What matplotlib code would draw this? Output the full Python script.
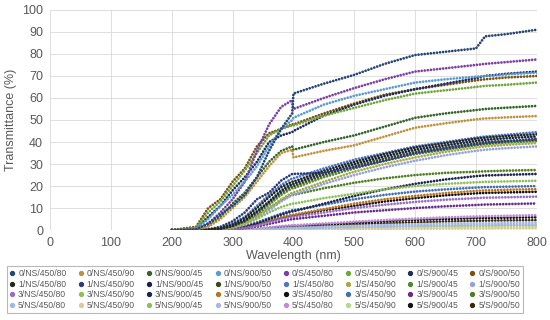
import numpy as np
from matplotlib import pyplot as plt
from matplotlib.lines import Line2D

wavelength = [200, 240, 260, 280, 300, 320, 340, 360, 380, 398, 400,
              450, 500, 550, 600, 650, 700, 715, 750, 800]

# transmittance (%) per sample
t_0_NS_450_80 = [0, 0.3, 3, 7, 11, 16, 24, 36, 46, 53, 62, 66.5, 70.5, 75.5, 79.5, 81, 82.5, 88, 89, 91]
t_0_NS_450_90 = [0, 0.3, 1.5, 5, 10, 15, 22, 29, 35, 36.5, 33, 36, 38.5, 42.5, 46.5, 48.5, 50.3, 50.7, 51.2, 51.8]
t_0_NS_900_45 = [0, 0.3, 2, 6, 12, 17, 24, 31, 36, 38, 36.5, 40, 43, 47, 51, 53, 54.5, 55, 55.6, 56.4]
t_0_NS_900_50 = [0, 0.5, 5, 11, 16, 22, 29, 38, 46, 50, 51, 57, 61, 64, 67, 68.5, 69.7, 70, 70.7, 71.5]
t_0_S_450_80 = [0, 0.3, 3, 8, 14, 22, 36, 48, 56, 59, 55, 60, 64.5, 68.5, 72, 73.5, 75, 75.5, 76.3, 77.5]
t_0_S_450_90 = [0, 1, 8, 13, 20, 27, 35, 43, 46, 47.5, 47.5, 52, 55.5, 59, 62, 63.5, 65, 65.5, 66, 67]
t_0_S_900_45 = [0, 1, 6, 11, 18, 24, 31, 40, 43, 44.5, 45, 52, 57, 61, 64, 66.5, 69, 70, 71, 72]
t_0_S_900_50 = [0, 1.5, 10, 14, 22, 28, 38, 44, 46, 48, 48, 53, 57.5, 61.5, 64, 66, 68, 68.5, 69.3, 70]

t_1_NS_450_80 = [0, 0, 0.2, 0.8, 2.5, 5.5, 10, 15, 19.5, 22, 22, 27, 31, 34.5, 37.5, 39.5, 41.5, 42, 42.7, 43.5]
t_1_NS_450_90 = [0, 0, 0.3, 1.5, 4, 8, 14, 17, 22.5, 25.5, 25.5, 26, 28.5, 31.5, 35, 37, 39, 39.5, 40.3, 41.5]
t_1_NS_900_45 = [0, 0, 0.2, 0.7, 2, 4.5, 8.5, 13, 18, 21, 21, 26, 30, 33.5, 36.5, 38.5, 40.5, 41, 41.7, 42.5]
t_1_NS_900_50 = [0, 0, 0.1, 0.5, 1.8, 4, 8, 12.5, 17, 20, 20, 25, 29, 32.5, 35.5, 37.5, 39.5, 40, 40.5, 41]
t_1_S_450_80 = [0, 0, 0.3, 1, 3, 6, 11, 16, 20.5, 23.5, 23.5, 28, 32, 35, 38, 40, 42, 42.5, 43.3, 44.5]
t_1_S_450_90 = [0, 0, 0.1, 0.4, 1.2, 3, 6, 10, 14, 17, 17, 22, 26.5, 30, 33, 35.5, 37.5, 38, 38.7, 39.5]
t_1_S_900_45 = [0, 0, 0.1, 0.5, 1.5, 3.5, 7, 11.5, 16, 19, 19, 24, 28, 31.5, 34.5, 36.5, 38.5, 39, 39.7, 40.5]
t_1_S_900_50 = [0, 0, 0.1, 0.4, 1.2, 2.8, 5.5, 9, 13, 16, 16, 21, 25, 28.5, 31.5, 34, 36, 36.5, 37.2, 38]

t_3_NS_450_80 = [0, 0, 0, 0.1, 0.4, 1, 2, 3.5, 5, 6, 6, 8, 10, 11.5, 12.8, 13.8, 14.5, 14.7, 14.9, 15.2]
t_3_NS_450_90 = [0, 0, 0, 0.3, 1, 2.5, 5, 8, 10.5, 12, 12, 14.5, 16.5, 18.5, 20, 21, 21.7, 21.9, 22.1, 22.4]
t_3_NS_900_45 = [0, 0, 0, 0.2, 0.6, 1.5, 3, 5, 7, 8.5, 8.5, 12, 15.5, 18.5, 21, 23, 24.5, 24.8, 25.1, 25.5]
t_3_NS_900_50 = [0, 0, 0, 0.2, 0.6, 1.5, 3, 4.5, 6, 7, 7, 9.5, 12, 14, 15.5, 16.8, 17.8, 18, 18.3, 18.6]
t_3_S_450_80 = [0, 0, 0, 0.1, 0.5, 1.2, 2.5, 4, 5.5, 6.5, 6.5, 9, 11, 13, 14.5, 15.8, 16.7, 16.9, 17.1, 17.4]
t_3_S_450_90 = [0, 0, 0, 0.2, 0.7, 1.8, 3.5, 5.5, 7.5, 9, 9, 11.5, 14, 16, 17.5, 18.5, 19.3, 19.5, 19.7, 20]
t_3_S_900_45 = [0, 0, 0, 0.1, 0.3, 0.8, 1.6, 2.8, 4, 5, 5, 6.5, 8, 9, 10, 10.8, 11.4, 11.6, 11.8, 12.1]
t_3_S_900_50 = [0, 0, 0.1, 0.4, 1.5, 3.5, 6.5, 10, 13.5, 16, 16, 19, 21.5, 23.5, 25, 26, 26.5, 26.7, 27, 27.3]

t_5_NS_450_80 = [0, 0, 0, 0, 0, 0.1, 0.2, 0.4, 0.6, 0.8, 0.8, 1.1, 1.4, 1.7, 2, 2.2, 2.4, 2.4, 2.5, 2.5]
t_5_NS_450_90 = [0, 0, 0, 0, 0, 0, 0.1, 0.2, 0.3, 0.4, 0.4, 0.5, 0.7, 0.8, 0.9, 1, 1.1, 1.1, 1.2, 1.2]
t_5_NS_900_45 = [0, 0, 0, 0, 0, 0.1, 0.2, 0.3, 0.5, 0.6, 0.6, 0.9, 1.1, 1.4, 1.6, 1.8, 1.9, 1.9, 2, 2]
t_5_NS_900_50 = [0, 0, 0, 0, 0, 0.1, 0.3, 0.5, 0.8, 1, 1, 1.5, 1.9, 2.3, 2.6, 2.9, 3.1, 3.1, 3.2, 3.3]
t_5_S_450_80 = [0, 0, 0, 0, 0.1, 0.3, 0.7, 1.2, 1.8, 2.2, 2.2, 3, 3.8, 4.6, 5.2, 5.8, 6.2, 6.3, 6.5, 6.8]
t_5_S_450_90 = [0, 0, 0, 0, 0, 0, 0.1, 0.1, 0.2, 0.3, 0.3, 0.4, 0.5, 0.5, 0.6, 0.7, 0.7, 0.7, 0.8, 0.8]
t_5_S_900_45 = [0, 0, 0, 0, 0.1, 0.3, 0.6, 1, 1.5, 1.9, 1.9, 2.6, 3.3, 4, 4.6, 5, 5.4, 5.5, 5.6, 5.8]
t_5_S_900_50 = [0, 0, 0, 0, 0.1, 0.2, 0.4, 0.7, 1.1, 1.4, 1.4, 2, 2.6, 3.1, 3.5, 3.9, 4.2, 4.3, 4.4, 4.5]

labels = [
    "0/NS/450/80", "0/NS/450/90", "0/NS/900/45", "0/NS/900/50",
    "0/S/450/80", "0/S/450/90", "0/S/900/45", "0/S/900/50",
    "1/NS/450/80", "1/NS/450/90", "1/NS/900/45", "1/NS/900/50",
    "1/S/450/80", "1/S/450/90", "1/S/900/45", "1/S/900/50",
    "3/NS/450/80", "3/NS/450/90", "3/NS/900/45", "3/NS/900/50",
    "3/S/450/80", "3/S/450/90", "3/S/900/45", "3/S/900/50",
    "5/NS/450/80", "5/NS/450/90", "5/NS/900/45", "5/NS/900/50",
    "5/S/450/80", "5/S/450/90", "5/S/900/45", "5/S/900/50",
]
series = [
    t_0_NS_450_80, t_0_NS_450_90, t_0_NS_900_45, t_0_NS_900_50,
    t_0_S_450_80, t_0_S_450_90, t_0_S_900_45, t_0_S_900_50,
    t_1_NS_450_80, t_1_NS_450_90, t_1_NS_900_45, t_1_NS_900_50,
    t_1_S_450_80, t_1_S_450_90, t_1_S_900_45, t_1_S_900_50,
    t_3_NS_450_80, t_3_NS_450_90, t_3_NS_900_45, t_3_NS_900_50,
    t_3_S_450_80, t_3_S_450_90, t_3_S_900_45, t_3_S_900_50,
    t_5_NS_450_80, t_5_NS_450_90, t_5_NS_900_45, t_5_NS_900_50,
    t_5_S_450_80, t_5_S_450_90, t_5_S_900_45, t_5_S_900_50,
]
colors = [
    "#264478", "#C0913A", "#33652A", "#5B9BD5", "#7B3FA8", "#6FA63A", "#1F2D5C", "#7A5210",
    "#1E2A1A", "#2B3A7A", "#1A1F4A", "#3B4A14", "#4F74C8", "#A8A84A", "#4E8A2E", "#8EA3E0",
    "#9B6BC9", "#8FBF5A", "#1B2550", "#B8741E", "#111111", "#3F6FB5", "#6A2C8C", "#4F7F22",
    "#9FB8E8", "#E0C89A", "#8CC05A", "#A8B8EC", "#C08AD8", "#B5D98A", "#141414", "#3A2A08",
]


def main():
    plt.rcParams["font.family"] = ["Liberation Sans", "DejaVu Sans"]
    fig = plt.figure(figsize=(5.5, 3.2), dpi=100)
    ax = fig.add_axes([0.091, 0.281, 0.885, 0.688])

    x = np.array(wavelength)
    # draw back to front so the top curves sit on top
    for y, c in zip(series[::-1], colors[::-1]):
        ax.plot(x, y, color=c, lw=2.0, linestyle=(0, (0.01, 1.1)),
                dash_capstyle="round", solid_capstyle="round")

    ax.set_xlim(0, 800)
    ax.set_ylim(0, 100)
    ax.set_xticks(np.arange(0, 801, 100))
    ax.set_yticks(np.arange(0, 101, 10))
    ax.grid(color="#D9D9D9", lw=0.6)
    ax.set_axisbelow(True)
    for s in ax.spines.values():
        s.set_visible(False)
    ax.tick_params(length=0, labelsize=9, labelcolor="#595959", pad=5)
    ax.set_xlabel("Wavelength (nm)", fontsize=9, color="#595959", labelpad=1)
    ax.set_ylabel("Transmittance (%)", fontsize=9, color="#595959", labelpad=4)

    handles = [Line2D([], [], marker="o", linestyle="None", color=c, markersize=2.8)
               for c in colors]
    # matplotlib fills legend columns first; reorder so rows read 0/, 1/, 3/, 5/
    order = [r * 8 + c for c in range(8) for r in range(4)]
    leg = fig.legend([handles[i] for i in order], [labels[i] for i in order],
                     ncol=8, loc="lower left", bbox_to_anchor=(0.004, 0.008),
                     fontsize=6.2, frameon=True, fancybox=False,
                     handlelength=0.6, handletextpad=0.4, columnspacing=1.35,
                     labelspacing=0.2, borderpad=0.35, labelcolor="#595959")
    leg.get_frame().set_edgecolor("#A6A6A6")
    leg.get_frame().set_linewidth(0.8)

    fig.savefig("out.png", dpi=100)


if __name__ == "__main__":
    main()
